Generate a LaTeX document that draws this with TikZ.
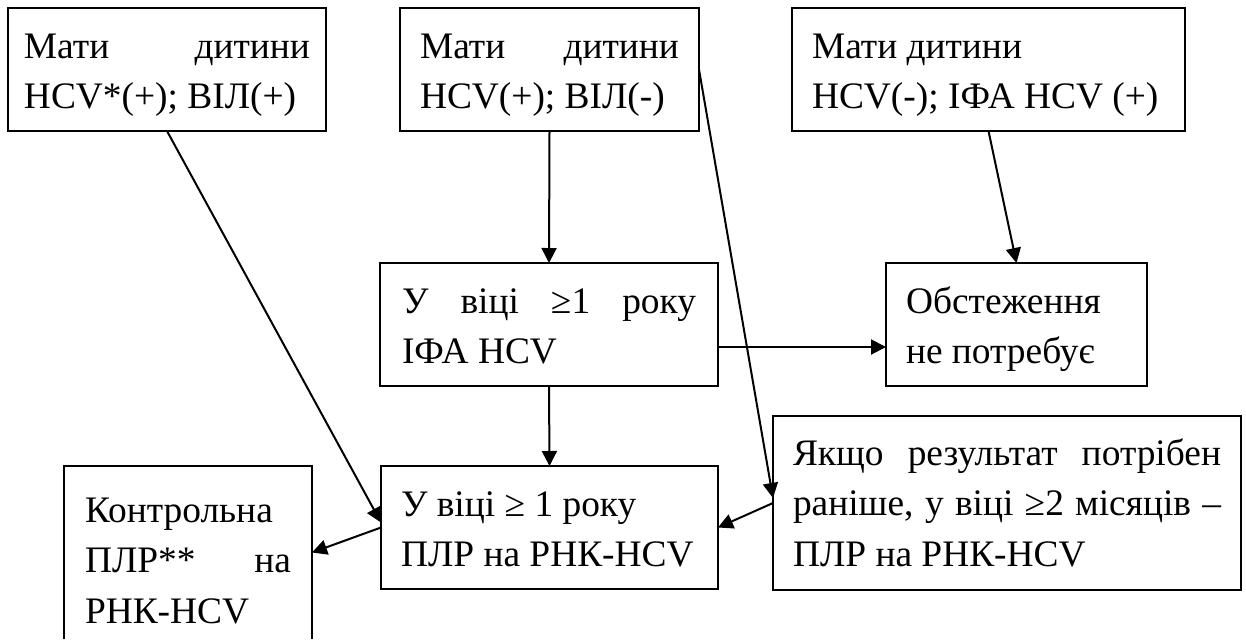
\documentclass[tikz,border=0pt]{standalone}
\usepackage{fontspec}
\setmainfont{Liberation Serif}
\usetikzlibrary{arrows.meta,calc}
\newcommand\jline[1]{\makebox[\linewidth][s]{#1}}
\newcommand\pline[1]{\mbox{#1}}
\begin{document}
\begin{tikzpicture}[x=0.5pt,y=-0.5pt,
  every node/.style={font=\fontsize{18.7pt}{25.25pt}\selectfont},
  box/.style={draw, line width=1pt, anchor=north west, outer sep=0pt, inner ysep=0pt,
    align=flush left, text height=25pt, text depth=36.5pt},
  conn/.style={line width=1pt, -{Triangle[length=7.5pt,width=7.5pt]}}]
\useasboundingbox (0,0) rectangle (1246,639);

\node[box, inner xsep=8pt, text width=143pt] (A) at (8,8)
  {\jline{Мати дитини}\\\pline{HCV*(+); ВІЛ(+)}};
\node[box, inner xsep=10pt, text width=129.5pt] (B) at (400,8)
  {\jline{Мати дитини}\\\pline{HCV(+); ВІЛ(-)}};
\node[box, inner xsep=10pt, text width=176.5pt] (C) at (792,8)
  {\pline{Мати дитини}\\\pline{HCV(-); ІФА HCV (+)}};
\node[box, inner xsep=11pt, text width=147pt] (D) at (380,263)
  {\jline{У віці ≥1 року}\\\pline{ІФА HCV}};
\node[box, inner xsep=10pt, text width=110.5pt] (E) at (886,263)
  {\pline{Обстеження}\\\pline{не потребує}};
\node[box, inner xsep=10pt, text width=148.5pt] (F) at (381,466)
  {\pline{У віці ≥ 1 року}\\\pline{ПЛР на РНК-HCV}};
\node[box, inner xsep=10pt, text width=214pt, text height=24.5pt, text depth=62.5pt] (G) at (773,416)
  {\jline{Якщо результат потрібен}\\\jline{раніше, у віці ≥2 місяців –}\\\pline{ПЛР на РНК-HCV}};
\node[box, draw=none, inner xsep=10.5pt, text width=103pt, text height=28pt, text depth=58.5pt] (H) at (64,466)
  {\pline{Контрольна}\\\jline{ПЛР** на}\\\pline{РНК-HCV}};
\draw[line width=1pt] (H.south west) -- (H.north west) -- (H.north east) -- (H.south east);

\draw[conn] (A.south) -- ([yshift=2.5pt]F.west);
\draw[conn] (B.south) -- (D.north);
\draw[conn] (B.east) -- ([yshift=2.5pt]G.west);
\draw[conn] (C.south) -- (E.north);
\draw[conn] ([yshift=-11.25pt]D.east) -- ([yshift=-11.25pt]E.west);
\draw[conn] (D.south) -- (F.north);
\draw[conn] (G.west) -- (F.east);
\draw[conn] (F.west) -- (H.east);
\end{tikzpicture}
\end{document}
